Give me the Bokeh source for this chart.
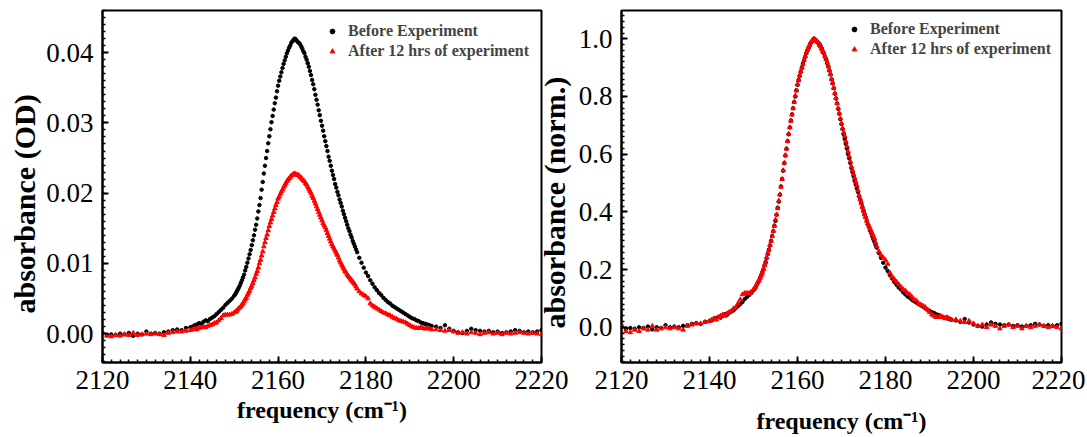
from bokeh.plotting import figure
from bokeh.layouts import row
from bokeh.models import (SingleIntervalTicker, PrintfTickFormatter, Title,
                          Legend, LegendItem, Range1d)
from bokeh.embed import file_html
from bokeh.resources import INLINE

# ---------------- data ----------------
freq = [
    2120, 2121, 2122, 2123, 2124, 2125, 2126, 2127, 2128, 2129, 2130,
    2131, 2132, 2133, 2134, 2135, 2136, 2137, 2138, 2139, 2140,
    2140.5, 2141, 2141.5, 2142, 2142.5, 2143, 2143.5, 2144, 2144.5, 2145,
    2145.5, 2146, 2146.5, 2147, 2147.5, 2148, 2148.5, 2149, 2149.5, 2150,
    2150.25, 2150.5, 2150.75, 2151, 2151.25, 2151.5, 2151.75, 2152, 2152.25, 2152.5,
    2152.75, 2153, 2153.25, 2153.5, 2153.75, 2154, 2154.25, 2154.5, 2154.75, 2155,
    2155.25, 2155.5, 2155.75, 2156, 2156.25, 2156.5, 2156.75, 2157, 2157.25, 2157.5,
    2157.75, 2158, 2158.25, 2158.5, 2158.75, 2159, 2159.25, 2159.5, 2159.75, 2160,
    2160.25, 2160.5, 2160.75, 2161, 2161.25, 2161.5, 2161.75, 2162, 2162.25, 2162.5,
    2162.75, 2163, 2163.25, 2163.5, 2163.75, 2164, 2164.25, 2164.5, 2164.75, 2165,
    2165.25, 2165.5, 2165.75, 2166, 2166.25, 2166.5, 2166.75, 2167, 2167.25, 2167.5,
    2167.75, 2168, 2168.25, 2168.5, 2168.75, 2169, 2169.25, 2169.5, 2169.75, 2170,
    2170.25, 2170.5, 2170.75, 2171, 2171.25, 2171.5, 2171.75, 2172,
    2172.25, 2172.5, 2172.75, 2173, 2173.25, 2173.5, 2173.75, 2174,
    2174.25, 2174.5, 2174.75, 2175, 2175.25, 2175.5, 2175.75, 2176,
    2176.25, 2176.5, 2176.75, 2177, 2177.25, 2177.5, 2177.75, 2178,
    2178.5, 2179, 2179.5, 2180, 2180.5, 2181, 2181.5, 2182, 2182.5, 2183,
    2183.5, 2184, 2184.5, 2185, 2185.5, 2186, 2186.5, 2187, 2187.5, 2188,
    2188.5, 2189, 2189.5, 2190, 2190.5, 2191, 2191.5, 2192, 2192.5, 2193,
    2193.5, 2194, 2194.5, 2195,
    2196, 2197, 2198, 2199, 2200, 2201, 2202, 2203, 2204, 2205,
    2206, 2207, 2208, 2209, 2210, 2211, 2212, 2213, 2214, 2215,
    2216, 2217, 2218, 2219, 2220,
]

before_od = [
    0.0001, -0.0002, -0.0001, -0.0002, 0.0000, -0.0001, 0.0001, -0.0003, 0.0000, -0.0001, 0.0003,
    0.0000, 0.0001, 0.0000, 0.0002, 0.0003, 0.0005, 0.0006, 0.0005, 0.0008, 0.0009,
    0.0010, 0.0012, 0.0013, 0.0015, 0.0014, 0.0017, 0.0019, 0.0018, 0.0021, 0.0023,
    0.0025, 0.0028, 0.0031, 0.0034, 0.0037, 0.0041, 0.0044, 0.0047, 0.0050, 0.0054,
    0.0056, 0.0059, 0.0062, 0.0065, 0.0068, 0.0072, 0.0076, 0.0080, 0.0084, 0.0090,
    0.0095, 0.0101, 0.0107, 0.0113, 0.0119, 0.0126, 0.0133, 0.0140, 0.0148, 0.0155,
    0.0164, 0.0174, 0.0183, 0.0193, 0.0205, 0.0216, 0.0228, 0.0239, 0.0250, 0.0260,
    0.0271, 0.0281, 0.0291, 0.0301, 0.0310, 0.0319, 0.0328, 0.0336, 0.0345, 0.0353,
    0.0360, 0.0366, 0.0372, 0.0378, 0.0384, 0.0389, 0.0394, 0.0399, 0.0403, 0.0407,
    0.0410, 0.0414, 0.0416, 0.0418, 0.0420, 0.0419, 0.0417, 0.0415, 0.0414, 0.0412,
    0.0409, 0.0406, 0.0402, 0.0399, 0.0394, 0.0390, 0.0385, 0.0380, 0.0374, 0.0368,
    0.0361, 0.0355, 0.0348, 0.0340, 0.0333, 0.0326, 0.0318, 0.0311, 0.0303, 0.0296,
    0.0289, 0.0281, 0.0274, 0.0267, 0.0260, 0.0252, 0.0246, 0.0239,
    0.0232, 0.0226, 0.0220, 0.0213, 0.0208, 0.0202, 0.0197, 0.0191,
    0.0186, 0.0181, 0.0175, 0.0170, 0.0165, 0.0160, 0.0155, 0.0150,
    0.0146, 0.0141, 0.0137, 0.0132, 0.0128, 0.0124, 0.0120, 0.0116,
    0.0108, 0.0101, 0.0094, 0.0087, 0.0082, 0.0076, 0.0071, 0.0066, 0.0062, 0.0058,
    0.0055, 0.0051, 0.0048, 0.0045, 0.0043, 0.0040, 0.0038, 0.0036, 0.0034, 0.0032,
    0.0030, 0.0028, 0.0026, 0.0024, 0.0022, 0.0021, 0.0019, 0.0018, 0.0016, 0.0015,
    0.0014, 0.0013, 0.0012, 0.0011,
    0.0010, 0.0008, 0.0012, 0.0007, 0.0004, 0.0002, 0.0001, 0.0004, 0.0007, 0.0005,
    0.0004, 0.0003, 0.0004, 0.0002, 0.0003, 0.0001, 0.0002, 0.0003, 0.0005, 0.0004,
    0.0002, 0.0003, 0.0002, 0.0003, 0.0005,
]

after_od = [
    0.0002, -0.0003, -0.0004, -0.0002, -0.0003, -0.0001, -0.0002, 0.0001, -0.0002, -0.0001, 0.0000,
    -0.0001, 0.0000, -0.0001, -0.0002, 0.0001, 0.0002, 0.0003, 0.0003, 0.0004, 0.0005,
    0.0006, 0.0007, 0.0006, 0.0008, 0.0009, 0.0010, 0.0009, 0.0011, 0.0012, 0.0013,
    0.0015, 0.0016, 0.0019, 0.0022, 0.0026, 0.0027, 0.0027, 0.0027, 0.0028, 0.0030,
    0.0031, 0.0032, 0.0034, 0.0036, 0.0037, 0.0039, 0.0041, 0.0043, 0.0046, 0.0049,
    0.0051, 0.0055, 0.0058, 0.0061, 0.0065, 0.0068, 0.0072, 0.0076, 0.0080, 0.0085,
    0.0089, 0.0094, 0.0100, 0.0105, 0.0111, 0.0117, 0.0124, 0.0130, 0.0136, 0.0141,
    0.0147, 0.0153, 0.0158, 0.0163, 0.0168, 0.0173, 0.0178, 0.0183, 0.0187, 0.0192,
    0.0195, 0.0199, 0.0202, 0.0205, 0.0208, 0.0211, 0.0214, 0.0217, 0.0219, 0.0221,
    0.0223, 0.0225, 0.0226, 0.0227, 0.0228, 0.0227, 0.0226, 0.0226, 0.0225, 0.0223,
    0.0222, 0.0220, 0.0218, 0.0217, 0.0214, 0.0212, 0.0209, 0.0206, 0.0203, 0.0200,
    0.0196, 0.0193, 0.0189, 0.0185, 0.0181, 0.0177, 0.0173, 0.0169, 0.0165, 0.0161,
    0.0157, 0.0154, 0.0151, 0.0147, 0.0143, 0.0139, 0.0135, 0.0131,
    0.0127, 0.0124, 0.0121, 0.0118, 0.0115, 0.0112, 0.0108, 0.0104,
    0.0101, 0.0098, 0.0095, 0.0092, 0.0089, 0.0087, 0.0084, 0.0082,
    0.0080, 0.0078, 0.0076, 0.0074, 0.0072, 0.0070, 0.0067, 0.0064,
    0.0060, 0.0057, 0.0055, 0.0053, 0.0050, 0.0043, 0.0040, 0.0038, 0.0036, 0.0034,
    0.0032, 0.0030, 0.0029, 0.0027, 0.0026, 0.0024, 0.0022, 0.0021, 0.0019, 0.0018,
    0.0017, 0.0016, 0.0014, 0.0012, 0.0010, 0.0009, 0.0008, 0.0008, 0.0009, 0.0008,
    0.0007, 0.0008, 0.0007, 0.0006,
    0.0006, 0.0005, 0.0004, 0.0005, 0.0003, 0.0001, 0.0002, 0.0000, 0.0002, 0.0001,
    -0.0001, 0.0001, 0.0002, 0.0000, 0.0001, -0.0001, 0.0001, 0.0000, 0.0001, 0.0002,
    0.0001, 0.0000, 0.0001, 0.0000, -0.0001,
]

# right panel: each spectrum divided by its own maximum
before_norm = [v / max(before_od) for v in before_od]
after_norm = [v / max(after_od) for v in after_od]

series_labels = ["Before Experiment", "After 12 hrs of experiment"]
x_title = "frequency (cm\u207b\u00b9)"
y_titles = ["absorbance (OD)", "absorbance (norm.)"]

FONT = "Liberation Serif"


def style_axis(ax, standoff):
    ax.axis_line_width = 2
    ax.axis_line_color = "black"
    ax.major_tick_in = 6
    ax.major_tick_out = 0
    ax.minor_tick_in = 3
    ax.minor_tick_out = 0
    ax.major_tick_line_width = 2
    ax.minor_tick_line_width = 1.5
    ax.major_tick_line_color = "black"
    ax.minor_tick_line_color = "black"
    ax.major_label_text_font = FONT
    ax.major_label_text_font_size = "27px"
    ax.major_label_text_color = "black"
    ax.major_label_standoff = standoff


def panel(yb, ya, yr, interval, fmt, ytitle, mb_left, mb_right, fw,
          ytitle_offset, ytitle_standoff, xlabel_standoff, leg_margin):
    p = figure(frame_width=fw, frame_height=352,
               min_border_left=mb_left, min_border_right=mb_right,
               min_border_top=10, min_border_bottom=74,
               x_range=Range1d(2120, 2220), y_range=Range1d(*yr),
               output_backend="svg", toolbar_location=None,
               background_fill_color="white", border_fill_alpha=0)
    p.xgrid.visible = False
    p.ygrid.visible = False
    p.outline_line_color = "black"
    p.outline_line_width = 2
    p.outline_line_alpha = 1

    p.xaxis.ticker = SingleIntervalTicker(interval=20, num_minor_ticks=10)
    p.yaxis.ticker = SingleIntervalTicker(interval=interval, num_minor_ticks=10)
    p.yaxis.formatter = PrintfTickFormatter(format=fmt)
    style_axis(p.xaxis[0], 8)
    style_axis(p.yaxis[0], 9)

    xa = p.xaxis[0]
    xa.axis_label = x_title
    xa.axis_label_text_font = FONT
    xa.axis_label_text_font_style = "bold"
    xa.axis_label_text_font_size = "24px"
    xa.axis_label_text_color = "black"
    xa.axis_label_standoff = xlabel_standoff

    rb = p.scatter(freq, yb, marker="circle", size=3.5, color="black")
    ra = p.scatter(freq, ya, marker="triangle", size=4.5, color="#ff0000")

    legend = Legend(items=[LegendItem(label=series_labels[0], renderers=[rb]),
                           LegendItem(label=series_labels[1], renderers=[ra])],
                    location="top_right", border_line_alpha=0,
                    background_fill_alpha=0, label_text_font=FONT,
                    label_text_font_style="bold", label_text_font_size="16px",
                    glyph_width=12, glyph_height=16, label_standoff=10,
                    label_height=18, spacing=2, padding=2, margin=leg_margin)
    p.add_layout(legend)

    p.add_layout(Title(text=ytitle, align="left", offset=ytitle_offset,
                       standoff=ytitle_standoff, text_font=FONT,
                       text_font_style="bold", text_font_size="30px",
                       text_color="black"), "left")
    return p


p1 = panel(before_od, after_od, (-0.0041, 0.046), 0.01, "%.2f", y_titles[0],
           102, 30, 439, 49, 6, 5, 10)
p2 = panel(before_norm, after_norm, (-0.122, 1.098), 0.2, "%.1f", y_titles[1],
           100, 24, 440, 34, 10, 16, 8)
p2.margin = (0, 0, 0, -50)

layout = row(p1, p2)
open("out.html", "w").write(file_html(layout, INLINE))
